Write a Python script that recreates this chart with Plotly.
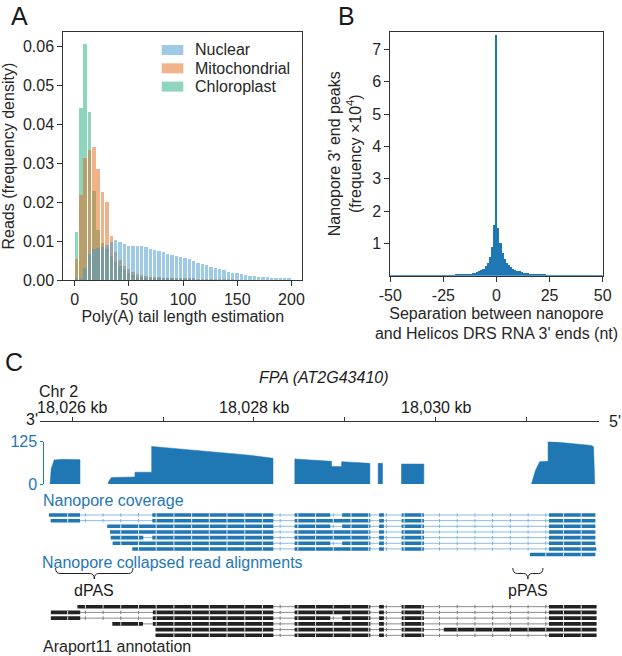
import plotly.graph_objects as go

W, H = 622, 656
FONT = "Liberation Sans, Arial, sans-serif"
DARK = "#262626"
BLUE = "#1f77b4"


def fx(p):
    return p / W


def fy(p):
    return 1 - p / H


# ---------------- Panel A data (frequency density, bin width 4) ----------------
polyA_bins = list(range(2, 200, 4))
nuclear = [0.0002, 0.0005, 0.0030, 0.0065, 0.0080, 0.0082, 0.0083, 0.0088, 0.0096, 0.0103,
           0.0097, 0.0092, 0.0087, 0.0087, 0.0087, 0.0086, 0.0084, 0.0080, 0.0077, 0.0074,
           0.0070, 0.0067, 0.0064, 0.0061, 0.0058, 0.0055, 0.0052, 0.0048, 0.0044, 0.0040,
           0.0037, 0.0033, 0.0030, 0.0027, 0.0024, 0.0021, 0.0018, 0.0016, 0.0014, 0.0012,
           0.0010, 0.0009, 0.0008, 0.0007, 0.0006, 0.0005, 0.0004, 0.0004, 0.0003, 0.0003]
mitochondrial = [0.0054, 0.0218, 0.0312, 0.0333, 0.0341, 0.0284, 0.0226, 0.0199, 0.0113, 0.0072,
                 0.0050, 0.0036, 0.0027, 0.0020, 0.0015, 0.0012, 0.0010, 0.0008, 0.0007, 0.0006,
                 0.0005, 0.0004, 0.0004, 0.0003, 0.0003, 0.0002, 0.0002, 0.0002, 0.0001, 0.0001,
                 0.0001, 0.0001, 0.0001, 0.0001, 0.0001, 0.0001, 0.0001, 0.0000, 0.0000, 0.0000,
                 0.0000, 0.0000, 0.0000, 0.0000, 0.0000, 0.0000, 0.0000, 0.0000, 0.0000, 0.0000]
chloroplast = [0.0122, 0.0442, 0.0607, 0.0432, 0.0228, 0.0128, 0.0094, 0.0080, 0.0060, 0.0046,
               0.0034, 0.0026, 0.0017, 0.0012, 0.0008, 0.0006, 0.0005, 0.0004, 0.0003, 0.0003,
               0.0002, 0.0002, 0.0002, 0.0001, 0.0001, 0.0001, 0.0001, 0.0001, 0.0000, 0.0000,
               0.0000, 0.0000, 0.0000, 0.0000, 0.0000, 0.0000, 0.0000, 0.0000, 0.0000, 0.0000,
               0.0000, 0.0000, 0.0000, 0.0000, 0.0000, 0.0000, 0.0000, 0.0000, 0.0000, 0.0000]
polyA_series = ["Nuclear", "Mitochondrial", "Chloroplast"]
polyA_colors = {"Nuclear": "#3d95cd", "Mitochondrial": "#e16915", "Chloroplast": "#1fab7f"}
polyA_xticks = [0, 50, 100, 150, 200]
polyA_yticks = [0.00, 0.01, 0.02, 0.03, 0.04, 0.05, 0.06]

# ---------------- Panel B data (frequency x10^4, 1 nt bins) ----------------
sep_bins = list(range(-50, 51))
sep_freq = [0.002, 0.002, 0.002, 0.003, 0.003, 0.003, 0.003, 0.004, 0.004, 0.004,
            0.005, 0.005, 0.005, 0.006, 0.006, 0.007, 0.007, 0.008, 0.009, 0.010,
            0.011, 0.012, 0.013, 0.014, 0.016, 0.018, 0.020, 0.022, 0.024, 0.027,
            0.030, 0.033, 0.036, 0.040, 0.045, 0.050, 0.056, 0.062, 0.070, 0.080,
            0.094, 0.115, 0.145, 0.180, 0.230, 0.300, 0.400, 0.590, 0.900, 1.570,
            7.450,
            1.490, 1.030, 0.720, 0.540, 0.400, 0.330, 0.280, 0.230, 0.190, 0.160,
            0.140, 0.120, 0.105, 0.095, 0.085, 0.075, 0.066, 0.058, 0.051, 0.045,
            0.040, 0.036, 0.032, 0.029, 0.026, 0.023, 0.021, 0.019, 0.017, 0.015,
            0.014, 0.013, 0.012, 0.011, 0.010, 0.009, 0.008, 0.008, 0.007, 0.007,
            0.006, 0.006, 0.005, 0.005, 0.005, 0.004, 0.004, 0.004, 0.003, 0.003]
sep_xticks = [-50, -25, 0, 25, 50]
sep_xticktext = ["-50", "-25", "0", "25", "50"]
sep_yticks = [1, 2, 3, 4, 5, 6, 7]

# ---------------- Panel C data (genomic coordinates in kb) ----------------
genome_ticks = [18026, 18027, 18028, 18029, 18030, 18031]
genome_ticktext = ["18,026 kb", "", "18,028 kb", "", "18,030 kb", ""]

# coverage profile blocks: (positions kb, depth)
coverage_blocks = [
    ([18025.755, 18025.768, 18025.800, 18025.900, 18026.085, 18026.085],
     [0, 45, 71, 73, 72, 0]),
    ([18026.397, 18026.397, 18026.430, 18026.690, 18026.690, 18026.874, 18026.874,
      18027.370, 18027.920, 18028.210, 18028.210],
     [0, 6, 19, 21, 35, 35, 111, 99, 86, 76, 0]),
    ([18028.450, 18028.450, 18028.855, 18028.855, 18028.965, 18028.965, 18029.277, 18029.277],
     [0, 74, 67, 52, 52, 66, 61, 0]),
    ([18029.368, 18029.368, 18029.416, 18029.416], [0, 61, 61, 0]),
    ([18029.625, 18029.625, 18029.871, 18029.871], [0, 59, 59, 0]),
    ([18031.056, 18031.100, 18031.147, 18031.239, 18031.239, 18031.716, 18031.740, 18031.753],
     [0, 40, 66, 67, 126, 114, 110, 0]),
]

EC = (18029.378, 18029.431)
ED = (18029.627, 18029.872)
EE = (18031.249, 18031.760)
nanopore_reads = [
    [(18025.743, 18026.085), (18026.881, 18028.214), (18028.448, 18028.841), (18028.972, 18029.282), EC, ED, EE],
    [(18025.762, 18026.085), (18026.881, 18028.214), (18028.448, 18029.282), EC, ED, EE],
    [(18026.385, 18028.214), (18028.448, 18028.841), (18028.972, 18029.282), EC, ED, EE],
    [(18026.415, 18028.214), (18028.448, 18029.282), EC, ED, EE],
    [(18026.423, 18026.782), (18026.881, 18028.214), (18028.448, 18029.282), EC, ED, EE],
    [(18026.445, 18028.214), (18028.448, 18028.841), (18028.972, 18029.282), EC, ED, EE],
    [(18026.661, 18028.214), (18028.448, 18029.282), EC, ED, (18031.249, 18031.770)],
    [(18031.039, 18031.760)],
]
EA = (18031.249, 18031.773)
araport_models = [
    [(18026.057, 18028.214), (18028.448, 18029.282), EC, ED, EA],
    [(18025.764, 18026.087), (18026.887, 18028.214), (18028.448, 18029.282), EC, ED, EA],
    [(18025.764, 18026.087), (18026.887, 18028.214), (18028.448, 18028.841), (18028.972, 18029.282), EC, ED, EA],
    [(18026.441, 18026.778), (18026.887, 18028.214), (18028.448, 18029.282), EC, ED, EA],
    [(18026.917, 18028.214), (18028.448, 18029.282), EC, ED, (18030.091, 18031.773)],
    [(18026.917, 18028.214), (18028.448, 18029.282), EC, ED, EA],
]
pas_braces = [("dPAS", 18025.816, 18026.668), ("pPAS", 18030.851, 18031.183)]
STRAND_MARK_START, STRAND_MARK_STEP = 18025.949, 0.195  # IGV-style strand glyph spacing

# ---------------- Figure ----------------
fig = go.Figure()
shapes = []
annotations = []


def txt(t, x, y, size=16, color="#1a1a1a", xanchor="left", yanchor="middle"):
    annotations.append(dict(text=t, x=fx(x), y=fy(y), xref="paper", yref="paper",
                            xanchor=xanchor, yanchor=yanchor, showarrow=False,
                            font=dict(size=size, color=color, family=FONT)))


# Panel A: drawn chloroplast -> mitochondrial -> nuclear (nuclear on top)
polyA_values = {"Nuclear": nuclear, "Mitochondrial": mitochondrial, "Chloroplast": chloroplast}
for name in reversed(polyA_series):
    fig.add_trace(go.Bar(x=polyA_bins, y=polyA_values[name], width=3.2, name=name,
                         marker=dict(color=polyA_colors[name], line=dict(width=0)), opacity=0.5,
                         showlegend=False, xaxis="x", yaxis="y"))
# legend (patches + labels)
for i, name in enumerate(polyA_series):
    yc = 50 + 18.3 * i
    shapes.append(dict(type="rect", xref="paper", yref="paper", x0=fx(161.7), x1=fx(183.3),
                       y0=fy(yc + 5), y1=fy(yc - 5), fillcolor=polyA_colors[name],
                       opacity=0.5, line=dict(width=0)))
    txt(name, 192.7, yc, color=DARK)

# Panel B
fig.add_trace(go.Bar(x=sep_bins, y=sep_freq, width=1.0, marker=dict(color=BLUE, line=dict(width=0)),
                     showlegend=False, xaxis="x2", yaxis="y2"))

# Panel C coverage
for bx, by in coverage_blocks:
    fig.add_trace(go.Scatter(x=bx, y=by, mode="lines", fill="toself", fillcolor=BLUE,
                             line=dict(color=BLUE, width=0.5), showlegend=False,
                             hoverinfo="skip", xaxis="x3", yaxis="y3"))

HALF = 0.31


def add_models(models, yref, exon_col, intron_col, tick_col):
    ex_x, ex_y, in_x, in_y = [], [], [], []
    for i, exons in enumerate(models):
        start = min(e[0] for e in exons)
        end = max(e[1] for e in exons)
        if len(exons) > 1:
            shapes.append(dict(type="line", xref="x3", yref=yref, x0=start, x1=end, y0=i, y1=i,
                               layer="below", line=dict(color=intron_col, width=1)))
        for s, e in exons:
            shapes.append(dict(type="rect", xref="x3", yref=yref, x0=s, x1=e,
                               y0=i - HALF, y1=i + HALF, fillcolor=exon_col,
                               layer="below", line=dict(width=0)))
        # strand glyphs along the feature
        k = 0
        while True:
            g = STRAND_MARK_START + STRAND_MARK_STEP * k
            k += 1
            if g > end:
                break
            if g < start:
                continue
            inside = any(s + 0.01 < g < e - 0.01 for s, e in exons)
            near_edge = any(abs(g - s) <= 0.01 or abs(g - e) <= 0.01 for s, e in exons)
            if near_edge:
                continue
            if inside:
                ex_x.append(g)
                ex_y.append(i)
            else:
                in_x.append(g)
                in_y.append(i)
    fig.add_trace(go.Scatter(x=ex_x, y=ex_y, mode="markers", hoverinfo="skip", showlegend=False,
                             marker=dict(symbol="line-ns", size=2.5,
                                         line=dict(color="rgba(255,255,255,0.85)", width=1)),
                             xaxis="x3", yaxis=yref))
    fig.add_trace(go.Scatter(x=in_x, y=in_y, mode="markers", hoverinfo="skip", showlegend=False,
                             marker=dict(symbol="line-ns", size=2.5, line=dict(color=tick_col, width=1)),
                             xaxis="x3", yaxis=yref))


add_models(nanopore_reads, "y4", BLUE, "#8dbbdd", "#7fb2da")
add_models(araport_models, "y5", "#222222", "#8c8c8c", "#7a7a7a")

for label, x0, x1 in pas_braces:
    ytop, ybot = fy(568), fy(579)
    ymid = (ytop + ybot) / 2
    xm = (x0 + x1) / 2
    d = 0.05
    path = (f"M{x0},{ytop} Q{x0},{ymid} {x0 + d},{ymid} L{xm - d},{ymid} "
            f"Q{xm},{ymid} {xm},{ybot} Q{xm},{ymid} {xm + d},{ymid} "
            f"L{x1 - d},{ymid} Q{x1},{ymid} {x1},{ytop}")
    shapes.append(dict(type="path", xref="x3", yref="paper", path=path,
                       line=dict(color="#222222", width=1)))
    annotations.append(dict(text=label, x=xm, xref="x3", y=fy(590), yref="paper",
                            xanchor="center", yanchor="middle", showarrow=False,
                            font=dict(size=16, color="#1a1a1a", family=FONT)))

# genome ruler labels
for kb, lab in zip(genome_ticks, genome_ticktext):
    if lab:
        annotations.append(dict(text=lab, x=kb, xref="x3", y=fy(407.5), yref="paper",
                                xanchor="center", yanchor="middle", showarrow=False,
                                font=dict(size=16, color="#1a1a1a", family=FONT)))

txt("A", 9, 0, size=25, yanchor="top")
txt("B", 336, 0, size=25, yanchor="top")
txt("C", 3, 362, size=25)
txt("<i>FPA (AT2G43410)</i>", 323.7, 377, xanchor="center")
txt("Chr 2", 37, 391)
txt("3'", 40, 419, xanchor="right")
txt("5'", 607, 421)
txt("Nanopore coverage", 41, 500, color=BLUE)
txt("Nanopore collapsed read alignments", 40, 562, color=BLUE)
txt("Araport11 annotation", 41, 646, color="#262626")

axis_common = dict(showgrid=False, zeroline=False, showline=True, linecolor="#333333",
                   linewidth=1, ticks="outside", ticklen=5, tickcolor="#333333",
                   automargin=False,
                   tickfont=dict(size=16, color=DARK, family=FONT))

fig.update_layout(
    width=W, height=H, margin=dict(l=0, r=0, t=0, b=0, autoexpand=False),
    paper_bgcolor="white", plot_bgcolor="white",
    barmode="overlay", bargap=0, showlegend=False,
    font=dict(family=FONT, size=16, color=DARK),
    xaxis=dict(axis_common, domain=[fx(63.3), fx(302.3)], anchor="y", range=[-10.5, 210],
               tickvals=polyA_xticks, mirror=True,
               title=dict(text="Poly(A) tail length estimation", standoff=3,
                          font=dict(size=16, color=DARK))),
    yaxis=dict(axis_common, domain=[fy(280), fy(32.3)], anchor="x", range=[0, 0.0637],
               tickvals=polyA_yticks, tickformat=".2f", mirror=True,
               title=dict(text="Reads (frequency density)", standoff=5,
                          font=dict(size=16, color=DARK))),
    xaxis2=dict(axis_common, domain=[fx(390.3), fx(602.7)], anchor="y2", range=[-50, 50],
                tickvals=sep_xticks, ticktext=sep_xticktext, mirror=True,
                title=dict(text="Separation between nanopore<br>and Helicos DRS RNA 3' ends (nt)",
                           standoff=4, font=dict(size=16, color=DARK))),
    yaxis2=dict(axis_common, domain=[fy(275.7), fy(31.7)], anchor="x2", range=[0, 7.55],
                tickvals=sep_yticks, mirror=True,
                title=dict(text="Nanopore 3' end peaks<br>(frequency ×10<sup>4</sup>)",
                           standoff=6, font=dict(size=16, color=DARK))),
    xaxis3=dict(axis_common, domain=[fx(39.7), fx(599)], anchor="free", position=fy(421),
                side="top", range=[18025.641, 18031.80], tickvals=genome_ticks,
                showticklabels=False, ticklen=4),
    yaxis3=dict(showgrid=False, zeroline=False, showline=True, linecolor=BLUE, linewidth=1,
                ticks="outside", ticklen=3, tickcolor=BLUE, automargin=False,
                tickfont=dict(size=16, color=BLUE, family=FONT),
                domain=[fy(484), fy(441.7)], anchor="free", position=fx(43.3),
                range=[0, 125], tickvals=[0, 125]),
    yaxis4=dict(domain=[fy(557.4), fy(512.2)], anchor="x3", range=[7.5, -0.5], visible=False),
    yaxis5=dict(domain=[fy(638.2), fy(603.8)], anchor="x3", range=[5.5, -0.5], visible=False),
    shapes=shapes,
    annotations=annotations,
)

fig.write_html("out.html", config={"displayModeBar": False},
               post_script="document.body.style.margin='0px';"
                           "document.body.style.overflow='hidden';")
